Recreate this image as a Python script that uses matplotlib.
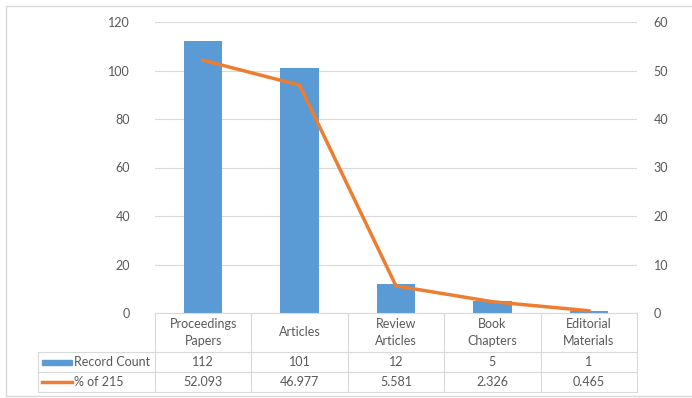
import matplotlib.pyplot as plt
from matplotlib.patches import Rectangle
from matplotlib.lines import Line2D

categories = ['Proceedings\nPapers', 'Articles', 'Review\nArticles', 'Book\nChapters', 'Editorial\nMaterials']
record_count = [112, 101, 12, 5, 1]
percent = [52.093, 46.977, 5.581, 2.326, 0.465]
count_labels = ['112', '101', '12', '5', '1']
percent_labels = ['52.093', '46.977', '5.581', '2.326', '0.465']

blue = '#5B9BD5'
orange = '#ED7D31'
grid = '#D9D9D9'
txt = '#595959'

plt.rcParams['font.family'] = ['Lato', 'DejaVu Sans']
plt.rcParams['font.size'] = 9

fig = plt.figure(figsize=(6.92, 3.98), dpi=100)
ax = fig.add_axes([155/692, 1 - 313/398, 482/692, 291/398])
ax2 = ax.twinx()

x = range(len(categories))
ax.bar(x, record_count, width=0.4, color=blue, zorder=2)
ax2.plot(x, percent, color=orange, linewidth=2.5, zorder=3)

ax.set_xlim(-0.5, 4.5)
ax.set_ylim(0, 120)
ax2.set_ylim(0, 60)
ax.set_yticks(range(0, 121, 20))
ax2.set_yticks(range(0, 61, 10))
ax.set_xticks([])
ax.yaxis.grid(True, color=grid, linewidth=0.8, zorder=0)
ax.set_axisbelow(True)
for a in (ax, ax2):
    for s in a.spines.values():
        s.set_visible(False)
    a.tick_params(length=0, colors=txt, labelsize=9)
ax.tick_params(axis='y', pad=18)
ax2.tick_params(axis='y', pad=12)

# data table under the plot
tr = ax.get_xaxis_transform()
y_head = -39/291
y_r1 = -59/291
y_r2 = -79/291
x_left = -0.5 - 117/96.4
lc = dict(color=grid, linewidth=0.8, transform=tr, clip_on=False)

ax.add_line(Line2D([-0.5, 4.5], [0, 0], **lc))
ax.add_line(Line2D([x_left, 4.5], [y_head, y_head], **lc))
ax.add_line(Line2D([x_left, 4.5], [y_r1, y_r1], **lc))
ax.add_line(Line2D([x_left, 4.5], [y_r2, y_r2], **lc))
for xv in [-0.5, 0.5, 1.5, 2.5, 3.5, 4.5]:
    ax.add_line(Line2D([xv, xv], [0, y_r2], **lc))
ax.add_line(Line2D([x_left, x_left], [y_head, y_r2], **lc))

for i, cat in enumerate(categories):
    ax.text(i, y_head / 2, cat, transform=tr, ha='center', va='center',
            color=txt, linespacing=1.5)
    ax.text(i, (y_head + y_r1) / 2, count_labels[i], transform=tr,
            ha='center', va='center', color=txt)
    ax.text(i, (y_r1 + y_r2) / 2, percent_labels[i], transform=tr,
            ha='center', va='center', color=txt)

# legend keys
sw = 30 / 96.4
xs = x_left + 4 / 96.4
ym1 = (y_head + y_r1) / 2
ym2 = (y_r1 + y_r2) / 2
ax.add_patch(Rectangle((xs, ym1 - 2.5/291), sw, 5/291, color=blue,
                       transform=tr, clip_on=False))
ax.add_line(Line2D([xs, xs + sw], [ym2, ym2], color=orange, linewidth=2.5,
                   transform=tr, clip_on=False))
ax.text(xs + sw + 2/96.4, ym1, 'Record Count', transform=tr, ha='left',
        va='center', color=txt)
ax.text(xs + sw + 2/96.4, ym2, '% of 215', transform=tr, ha='left',
        va='center', color=txt)

# chart frame
fig.add_artist(Rectangle((6/692, 2/398), 700/692, 390/398, fill=False,
                         edgecolor=grid, linewidth=1, transform=fig.transFigure))

fig.savefig('out.png', dpi=100)
